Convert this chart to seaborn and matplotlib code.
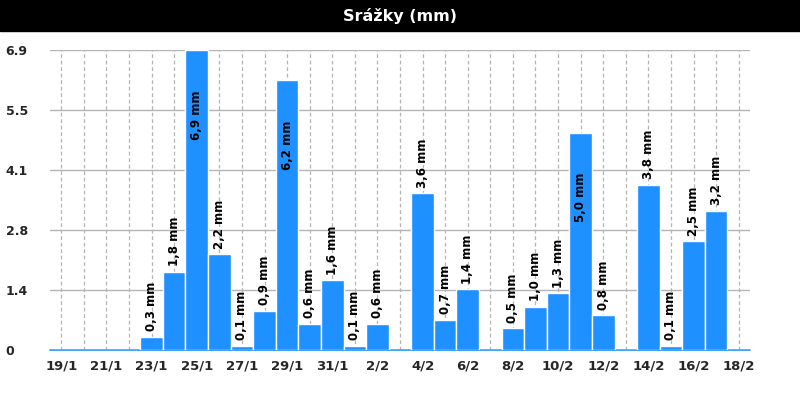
import matplotlib
matplotlib.use("Agg")
import matplotlib.pyplot as plt
import numpy as np
import pandas as pd
import seaborn as sns

# daily precipitation, 19/1 .. 18/2
days = [
    "19/1", "20/1", "21/1", "22/1", "23/1", "24/1", "25/1", "26/1", "27/1",
    "28/1", "29/1", "30/1", "31/1", "1/2", "2/2", "3/2", "4/2", "5/2", "6/2",
    "7/2", "8/2", "9/2", "10/2", "11/2", "12/2", "13/2", "14/2", "15/2",
    "16/2", "17/2", "18/2",
]
rain_mm = [
    0.0, 0.0, 0.0, 0.0, 0.3, 1.8, 6.9, 2.2, 0.1, 0.9, 6.2, 0.6, 1.6, 0.1,
    0.6, 0.0, 3.6, 0.7, 1.4, 0.0, 0.5, 1.0, 1.3, 5.0, 0.8, 0.0, 3.8, 0.1,
    2.5, 3.2, 0.0,
]
y_ticks = [0, 1.38, 2.76, 4.14, 5.52, 6.9]
y_tick_labels = ["0", "1.4", "2.8", "4.1", "5.5", "6.9"]

BLUE = "#1e90ff"
GRID = "#b4b4b4"

df = pd.DataFrame({"day": days, "mm": rain_mm})

sns.set_style("white")
plt.rcParams["font.family"] = ["DejaVu Sans"]

fig = plt.figure(figsize=(8, 4), dpi=100)
ax = fig.add_axes([0.0625, 0.125, 0.875, 0.75])

ax.axhline(0, color=BLUE, lw=1.2, zorder=1, clip_on=False)
sns.barplot(data=df, x="day", y="mm", color=BLUE, saturation=1, width=1.0,
            edgecolor="white", linewidth=1, ax=ax, zorder=2)

ax.set_xlim(-0.5, len(days) - 0.5)
ax.set_ylim(0, max(rain_mm))

# grid: solid horizontal, dashed vertical through every bar
ax.set_yticks(y_ticks)
ax.set_yticklabels(y_tick_labels)
ax.set_xticks(range(0, len(days), 2))
ax.set_xticklabels(days[::2])
ax.set_xticks(range(len(days)), minor=True)
ax.grid(True, axis="y", color=GRID, lw=1, zorder=0)
ax.grid(True, axis="x", which="both", color=GRID, lw=0.9, ls=(0, (3, 2.2)), zorder=0)
ax.set_axisbelow(True)

ax.tick_params(axis="both", which="both", length=0)
ax.tick_params(axis="x", pad=7)
ax.tick_params(axis="y", pad=32)
for lab in ax.get_yticklabels():
    lab.set_ha("left")
    lab.set_fontweight("bold")
    lab.set_fontsize(9)
for lab in ax.get_xticklabels():
    lab.set_fontweight("bold")
    lab.set_fontsize(9.5)

ax.set_xlabel("")
ax.set_ylabel("")
sns.despine(ax=ax, left=True, bottom=True)

# value labels
for i, v in enumerate(rain_mm):
    if v <= 0:
        continue
    txt = f"{v:.1f}".replace(".", ",") + " mm"
    if v > 4.5:
        ax.annotate(txt, (i, v), xytext=(0, -29), textcoords="offset points",
                    rotation=90, ha="center", va="top", fontsize=8.5,
                    fontweight="bold", color="black", zorder=5)
    else:
        ax.annotate(txt, (i, v), xytext=(0, 4), textcoords="offset points",
                    rotation=90, ha="center", va="bottom", fontsize=8.5,
                    fontweight="bold", color="black", zorder=5)

# black title bar
fig.patches.append(plt.Rectangle((0, 1 - 31 / 400), 1, 31 / 400,
                                 transform=fig.transFigure, color="black",
                                 zorder=0))
fig.text(0.5, 1 - 16 / 400, "Srážky (mm)", color="white", fontsize=11.5,
         fontweight="bold", ha="center", va="center")

fig.savefig("out.png", dpi=100)
